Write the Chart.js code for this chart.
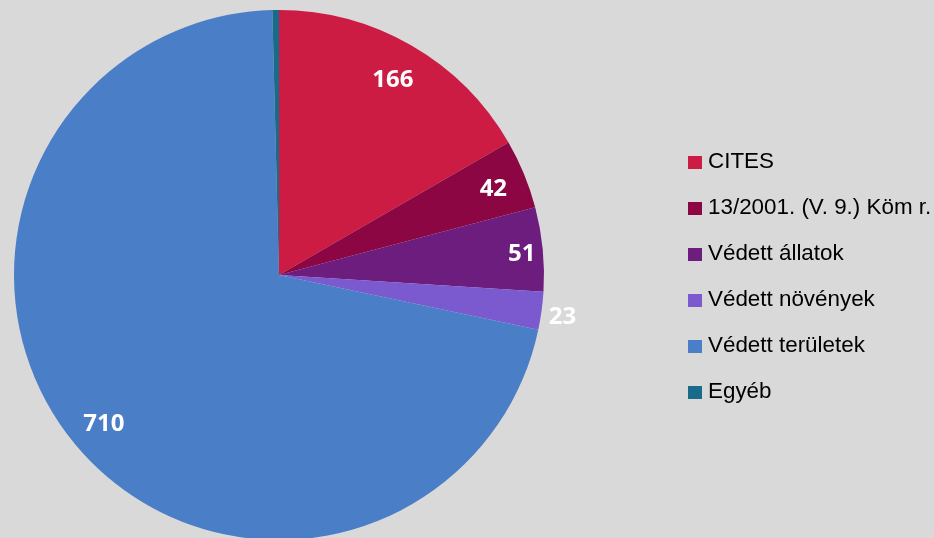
<!DOCTYPE html>
<html>
<head>
<meta charset="utf-8">
<script src="https://cdn.jsdelivr.net/npm/chart.js@4/dist/chart.umd.min.js"></script>
<style>
  html, body { margin: 0; padding: 0; background: #D9D9D9; overflow: hidden; width: 934px; height: 538px; }
  #wrap { position: absolute; left: 0; top: 0; width: 934px; height: 540px; }
  #legend { position: absolute; left: 688px; top: 148px; font-family: "Liberation Sans", Arial, sans-serif; font-size: 22.4px; color: #000; }
  .item { height: 46px; display: flex; align-items: flex-start; white-space: nowrap; }
  .box { width: 14px; height: 13px; margin-top: 8px; margin-right: 6px; flex: none; }
</style>
</head>
<body>
<div id="wrap"><canvas id="c" width="934" height="540"></canvas></div>
<div id="legend"></div>
<script>
const categories = ["CITES", "13/2001. (V. 9.) Köm r.", "Védett állatok", "Védett növények", "Védett területek", "Egyéb"];
const values = [166, 42, 51, 23, 710, 4];
const showLabel = [true, true, true, true, true, false];
const colors = ["#CD1C44", "#8B0642", "#6C1D7D", "#7B5AD0", "#4A7EC7", "#1A6A8A"];

const labelPlugin = {
  id: 'sliceLabels',
  afterDatasetsDraw(chart) {
    const ctx = chart.ctx;
    const meta = chart.getDatasetMeta(0);
    const total = values.reduce((a, b) => a + b, 0);
    ctx.save();
    ctx.font = 'bold 24px "Open Sans", sans-serif';
    ctx.fillStyle = '#FFFFFF';
    ctx.textAlign = 'center';
    ctx.textBaseline = 'middle';
    meta.data.forEach((arc, i) => {
      if (!showLabel[i]) return;
      const p = arc.getProps(['x', 'y', 'startAngle', 'endAngle', 'outerRadius'], true);
      const mid = (p.startAngle + p.endAngle) / 2;
      const frac = values[i] / total;
      let f = 0.86;
      if (frac < 0.03) f = 1.08;
      else if (frac < 0.045) f = 0.875;
      else if (frac < 0.07) f = 0.92;
      const r = p.outerRadius * f;
      ctx.fillText(String(values[i]), p.x + Math.cos(mid) * r, p.y + Math.sin(mid) * r + 3);
    });
    ctx.restore();
  }
};

new Chart(document.getElementById('c'), {
  type: 'pie',
  data: {
    labels: categories,
    datasets: [{
      data: values,
      backgroundColor: colors,
      borderWidth: 0
    }]
  },
  options: {
    responsive: false,
    animation: false,
    layout: { padding: { left: 14, top: 10, right: 390, bottom: 0 } },
    plugins: {
      legend: { display: false },
      tooltip: { enabled: false }
    }
  },
  plugins: [labelPlugin]
});

const leg = document.getElementById('legend');
categories.forEach((c, i) => {
  const d = document.createElement('div');
  d.className = 'item';
  const b = document.createElement('span');
  b.className = 'box';
  b.style.background = colors[i];
  const t = document.createElement('span');
  t.textContent = c;
  d.appendChild(b);
  d.appendChild(t);
  leg.appendChild(d);
});
</script>
</body>
</html>
